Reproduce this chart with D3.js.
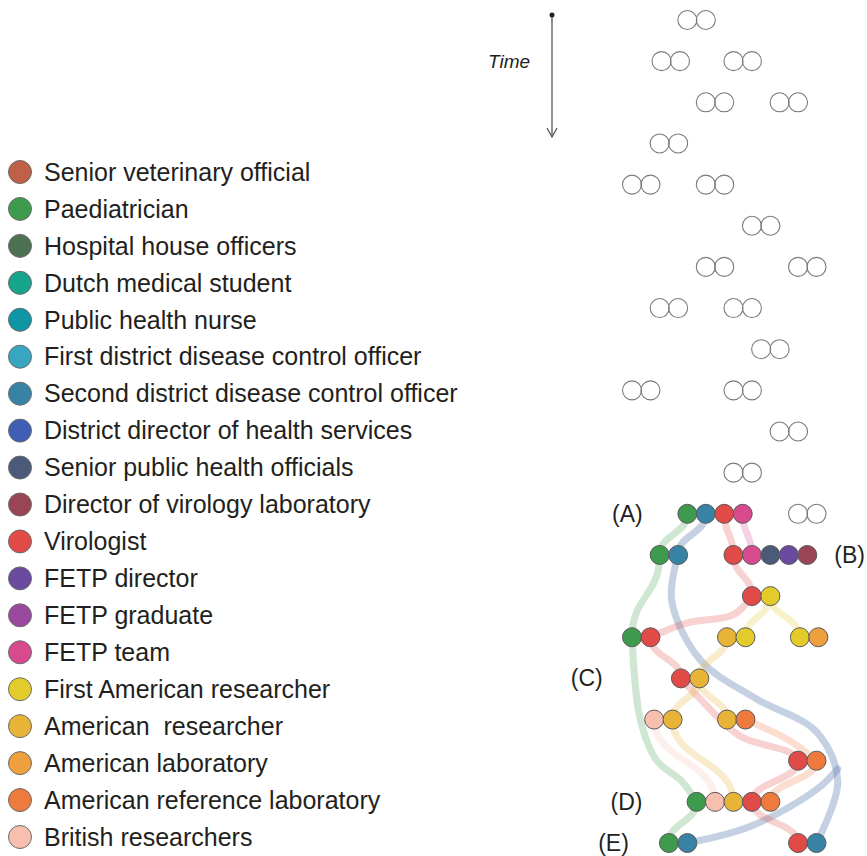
<!DOCTYPE html>
<html>
<head>
<meta charset="utf-8">
<script src="https://cdn.jsdelivr.net/npm/d3@7"></script>
<style>
  body { margin: 0; background: #fff; }
  #container { width: 867px; height: 856px; }
  text { font-family: "Liberation Sans", Arial, sans-serif; fill: #231f20; white-space: pre; }
</style>
</head>
<body>
<div id="container"></div>
<script>
// roles shown in the legend, in order
const roles = [
  "Senior veterinary official", "Paediatrician", "Hospital house officers",
  "Dutch medical student", "Public health nurse", "First district disease control officer",
  "Second district disease control officer", "District director of health services",
  "Senior public health officials", "Director of virology laboratory", "Virologist",
  "FETP director", "FETP graduate", "FETP team", "First American researcher",
  "American  researcher", "American laboratory", "American reference laboratory",
  "British researchers"
];
const roleColors = [
  "#bf6149", "#3e9a4c", "#4e7151", "#16a48b", "#0e96a5", "#36a6c1",
  "#3883a5", "#3f5fb5", "#4b5a78", "#9a4555", "#e04a47", "#6a4a9f",
  "#9a4a9e", "#d84a8e", "#e3cb2b", "#e8b438", "#eea03f", "#ee7a3e", "#f6bfae"
];

// meetings: time step, start column, roles present (empty = unknown pair)
const meetRow = [0, 1, 1, 2, 2, 3, 4, 4, 5, 6, 6, 7, 7, 8, 9, 9, 10, 11, 12,
  12, 13, 13, 14, 15, 15, 15, 16, 17, 17, 18, 19, 20, 20];
const meetCol = [6, 3.2, 11, 8, 16, 3, 0, 8, 13, 8, 18, 3, 11, 14, 0, 11, 16, 11, 18,
  6, 3, 11, 13, 0, 10.3, 18.2, 5.3, 2.4, 10.3, 18, 7, 4, 18];
const meetRoles = [[], [], [], [], [], [], [], [], [], [], [], [], [], [], [], [], [], [], [],
  [1, 6, 10, 13], [1, 6], [10, 13, 8, 11, 9], [10, 14], [1, 10], [15, 14], [14, 16],
  [10, 15], [18, 15], [15, 17], [10, 17], [1, 18, 15, 10, 17], [1, 6], [10, 6]];

// paths followed by each role: [time step, column]
const trackRole = [1, 1, 1, 1, 6, 6, 6, 10, 10, 10, 10, 10, 10, 10, 13, 14, 14,
  15, 15, 15, 15, 18, 17, 17];
const trackPts = [
  [[12, 6], [13, 3]],
  [[13, 3], [15, 0]],
  [[15, 0], [17, 0.9], [18, 2.7], [18.5, 5.4], [19, 7]],
  [[19, 7], [20, 4]],
  [[12, 8], [13, 5]],
  [[13, 5], [14.1, 4.3], [15.55, 7.4], [16.5, 13.5], [17.3, 20], [18.5, 22.3], [20, 20]],
  [[18.2, 22.3], [18.7, 20], [19.6, 12.8], [20, 6]],
  [[12, 10], [13, 11]],
  [[13, 11], [14, 13]],
  [[14, 13], [14.45, 11], [14.65, 6], [15, 2]],
  [[15, 2], [16, 5.3]],
  [[16, 5.3], [16.5, 7.4], [17.4, 11.7], [17.8, 17.1], [18, 18]],
  [[18, 18], [19, 13]],
  [[19, 13], [20, 18]],
  [[12, 12], [13, 13]],
  [[14, 15], [15, 12.3]],
  [[14, 15], [15, 18.2]],
  [[15, 10.3], [16, 7.3]],
  [[16, 7.3], [17, 4.4]],
  [[16, 7.3], [17, 10.3]],
  [[17, 4.4], [19, 11]],
  [[17, 2.4], [19, 9]],
  [[17, 12.3], [17.5, 17], [18, 20]],
  [[18, 20], [19, 15]]
];
// the second district officer's track is drawn in a greyer blue
const trackColor = ["#3e9a4c", "#4a6fa5"];

const panelLabels = ["(A)", "(B)", "(C)", "(D)", "(E)"];
const panelRow = [12, 13, 16, 19, 20];
const panelCol = [-0.5, 23.6, -4.9, -0.6, -2];

function draw() {
  let svg = d3.select("#container")
    .append("svg")
    .attr("width", 867)
    .attr("height", 856);

  // legend
  const legendY = d3.scalePoint()
    .domain(d3.range(roles.length))
    .range([172, 837]);

  let legend = svg.append("g").attr("class", "legend");

  let item = legend.selectAll("g")
    .data(roles)
    .enter()
    .append("g")
    .attr("transform", (d, i) => "translate(0," + legendY(i) + ")");

  item.append("circle")
    .attr("cx", 20)
    .attr("r", 11.5)
    .attr("fill", (d, i) => roleColors[i])
    .attr("stroke", "#6b6b6b")
    .attr("stroke-width", 1);

  item.append("text")
    .attr("x", 44)
    .attr("dy", "0.35em")
    .attr("font-size", 25)
    .text(d => d);

  // timeline
  const x = d3.scaleLinear().domain([0, 20]).range([632, 816.5]);
  const y = d3.scaleLinear().domain([0, 20]).range([20, 843]);
  const r = 9.5;

  let plot = svg.append("g").attr("class", "plot");

  // time arrow
  let arrow = plot.append("g").attr("class", "time");
  arrow.append("line")
    .attr("x1", 552).attr("x2", 552)
    .attr("y1", 15).attr("y2", 137)
    .attr("stroke", "#555").attr("stroke-width", 1.3);
  arrow.append("circle")
    .attr("cx", 552).attr("cy", 15).attr("r", 2.5)
    .attr("fill", "#222");
  arrow.append("path")
    .attr("d", "M547,128L552,137L557,128")
    .attr("fill", "none")
    .attr("stroke", "#555").attr("stroke-width", 1.3);
  arrow.append("text")
    .attr("x", 488).attr("y", 68)
    .attr("font-size", 19)
    .attr("font-style", "italic")
    .text("Time");

  // tracks
  const linkGen = d3.linkVertical()
    .x(d => x(d[1]))
    .y(d => y(d[0]));
  const lineGen = d3.line()
    .x(d => x(d[1]))
    .y(d => y(d[0]))
    .curve(d3.curveCatmullRom.alpha(0.5));

  plot.append("g")
    .attr("class", "tracks")
    .selectAll("path")
    .data(trackPts)
    .enter()
    .append("path")
    .attr("d", d => d.length == 2 ? linkGen({source: d[0], target: d[1]}) : lineGen(d))
    .attr("fill", "none")
    .attr("stroke", (d, i) => trackRole[i] == 6 ? trackColor[1] : roleColors[trackRole[i]])
    .attr("stroke-opacity", (d, i) => trackRole[i] == 6 ? 0.32 : 0.25)
    .attr("stroke-width", 7)
    .attr("stroke-linecap", "round");

  // meetings
  let nodes = [];
  meetRow.forEach((row, i) => {
    if (meetRoles[i].length == 0) {
      nodes.push({row: row, col: meetCol[i], role: -1});
      nodes.push({row: row, col: meetCol[i] + 2, role: -1});
    } else {
      meetRoles[i].forEach((m, j) => {
        nodes.push({row: row, col: meetCol[i] + j * 2, role: m});
      });
    }
  });

  plot.append("g")
    .attr("class", "nodes")
    .selectAll("circle")
    .data(nodes)
    .enter()
    .append("circle")
    .attr("cx", d => x(d.col))
    .attr("cy", d => y(d.row))
    .attr("r", r)
    .attr("fill", d => d.role < 0 ? "none" : roleColors[d.role])
    .attr("stroke", d => d.role < 0 ? "#7a7a7a" : "#5a5a5a")
    .attr("stroke-width", d => d.role < 0 ? 1.1 : 1);

  plot.append("g")
    .attr("class", "panel_labels")
    .selectAll("text")
    .data(panelLabels)
    .enter()
    .append("text")
    .attr("x", (d, i) => x(panelCol[i]))
    .attr("y", (d, i) => y(panelRow[i]))
    .attr("dy", "0.35em")
    .attr("text-anchor", "middle")
    .attr("font-size", 23)
    .text(d => d);
}

window.addEventListener("load", function () {
  draw();
});
</script>
</body>
</html>
